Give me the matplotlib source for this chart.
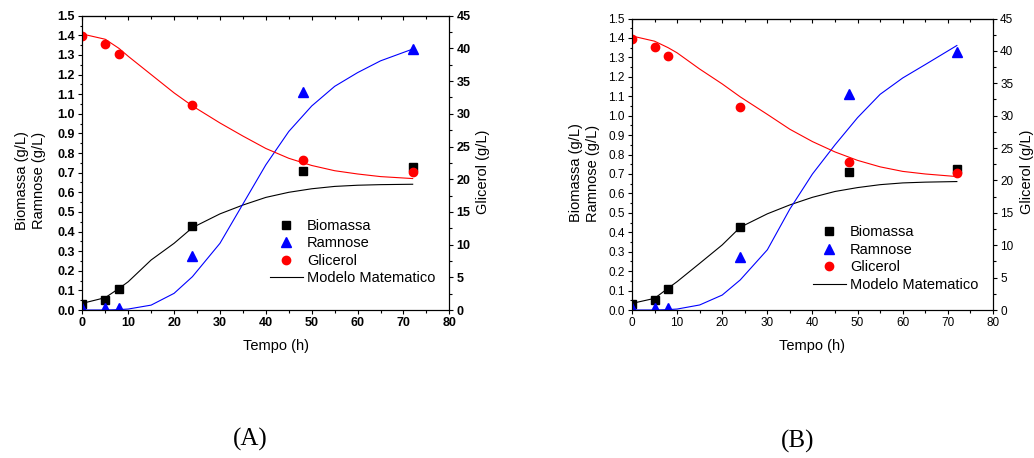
import matplotlib
matplotlib.use("Agg")
import matplotlib.pyplot as plt
from matplotlib.ticker import MultipleLocator, FormatStrFormatter
from matplotlib.lines import Line2D

plt.rcParams['font.family'] = ['Liberation Sans', 'DejaVu Sans']

# experimental points (same run in both panels)
tempo = [0, 5, 8, 24, 48, 72]
biomassa = [0.031, 0.051, 0.108, 0.429, 0.708, 0.728]
ramnose = [0.01, 0.01, 0.01, 0.273, 1.11, 1.33]
glicerol = [41.9, 40.6, 39.2, 31.3, 22.9, 21.1]

# model curves
tempo_modelo = [0, 5, 8, 10, 15, 20, 24, 30, 35, 40, 45, 50, 55, 60, 65, 72]

bio_mod_a = [0.034, 0.063, 0.11, 0.144, 0.255, 0.34, 0.42, 0.49, 0.535, 0.574,
             0.60, 0.618, 0.63, 0.636, 0.639, 0.641]
ram_mod_a = [0.0, 0.0, 0.002, 0.005, 0.025, 0.085, 0.17, 0.34, 0.54, 0.74,
             0.91, 1.04, 1.14, 1.21, 1.27, 1.33]
gli_mod_a = [42.2, 41.4, 40.0, 38.8, 36.0, 33.2, 31.2, 28.6, 26.6, 24.7,
             23.2, 22.1, 21.3, 20.8, 20.4, 20.1]

bio_mod_b = [0.034, 0.06, 0.112, 0.146, 0.24, 0.335, 0.426, 0.495, 0.541, 0.58,
             0.61, 0.63, 0.645, 0.654, 0.658, 0.661]
ram_mod_b = [0.0, 0.0, 0.002, 0.005, 0.026, 0.077, 0.155, 0.31, 0.52, 0.70,
             0.85, 0.99, 1.11, 1.194, 1.263, 1.361]
gli_mod_b = [42.3, 41.5, 40.5, 39.7, 37.2, 34.9, 32.9, 30.2, 27.9, 26.0,
             24.4, 23.1, 22.1, 21.4, 21.0, 20.6]

fig = plt.figure(figsize=(10.34, 4.58), dpi=100)


def panel(rect, bio_m, ram_m, gli_m, bold, ylab_pos, rlab_x, xlab_x, leg_xy):
    ax = fig.add_axes(rect)
    ax2 = ax.twinx()

    ax.plot(tempo_modelo, bio_m, color="black", lw=0.8)
    ax.plot(tempo_modelo, ram_m, color="blue", lw=0.8)
    ax2.plot(tempo_modelo, gli_m, color="red", lw=0.8)
    ax.plot(tempo, biomassa, "s", color="black", ms=5.5, ls="none")
    ax.plot(tempo, ramnose, "^", color="blue", ms=6.5, ls="none")
    ax2.plot(tempo, glicerol, "o", color="red", ms=6, ls="none")

    ax.set_xlim(0, 80)
    ax.set_ylim(0, 1.5)
    ax2.set_ylim(0, 45)

    ax.xaxis.set_major_locator(MultipleLocator(10))
    ax.xaxis.set_minor_locator(MultipleLocator(5))
    ax.yaxis.set_major_locator(MultipleLocator(0.1))
    ax.yaxis.set_minor_locator(MultipleLocator(0.05))
    ax.yaxis.set_major_formatter(FormatStrFormatter('%.1f'))
    ax2.yaxis.set_major_locator(MultipleLocator(5))
    ax2.yaxis.set_minor_locator(MultipleLocator(2.5))

    size = 9 if bold else 8.5
    ax.tick_params(which="major", direction="out", length=3.2, width=0.8, labelsize=size, pad=2)
    ax.tick_params(which="minor", direction="out", length=1.8, width=0.8)
    ax2.tick_params(which="major", direction="out", length=3.2, width=0.8, labelsize=size, pad=2)
    ax2.tick_params(which="minor", direction="out", length=1.8, width=0.8)

    top = ax.secondary_xaxis("top")
    top.xaxis.set_major_locator(MultipleLocator(10))
    top.xaxis.set_minor_locator(MultipleLocator(5))
    top.tick_params(which="major", direction="in", length=3.2, width=0.8, labeltop=False)
    top.tick_params(which="minor", direction="in", length=1.8, width=0.8)

    for a in (ax, ax2):
        for s in a.spines.values():
            s.set_linewidth(0.8)

    if bold:
        plt.setp(ax.get_xticklabels() + ax.get_yticklabels() + ax2.get_yticklabels(),
                 fontweight="bold")

    ax.set_xlabel("Tempo (h)", fontsize=10.5)
    ax.xaxis.set_label_coords(xlab_x, -0.10)
    ax.set_ylabel("Biomassa (g/L)\nRamnose (g/L)", fontsize=10.5, linespacing=1.25)
    ax.yaxis.set_label_coords(ylab_pos[0], ylab_pos[1])
    ax2.set_ylabel("Glicerol (g/L)", fontsize=10.5)
    ax2.yaxis.set_label_coords(rlab_x, ylab_pos[2])

    handles = [
        Line2D([], [], marker="s", color="black", ls="none", ms=5.5),
        Line2D([], [], marker="^", color="blue", ls="none", ms=6.5),
        Line2D([], [], marker="o", color="red", ls="none", ms=6),
        Line2D([], [], color="black", lw=0.8),
    ]
    ax2.legend(handles, ["Biomassa", "Ramnose", "Glicerol", "Modelo Matematico"],
               loc="upper left", bbox_to_anchor=leg_xy, frameon=False, fontsize=10.5,
               borderpad=0, borderaxespad=0, handlelength=2.25, handletextpad=0.3,
               labelspacing=0.24)
    return ax


panel([0.0796, 0.3231, 0.355, 0.6426], bio_mod_a, ram_mod_a, gli_mod_a, True,
      (-0.10, 0.44, 0.47), 1.073, 0.529, (0.511, 0.31))
panel([0.6112, 0.3231, 0.3491, 0.6365], bio_mod_b, ram_mod_b, gli_mod_b, False,
      (-0.088, 0.47, 0.474), 1.075, 0.5, (0.501, 0.29))

fig.text(0.2425, 0.041, "(A)", family="Liberation Serif", fontsize=18, ha="center", va="center")
fig.text(0.7715, 0.037, "(B)", family="Liberation Serif", fontsize=18, ha="center", va="center")

fig.savefig("out.png", dpi=100)
